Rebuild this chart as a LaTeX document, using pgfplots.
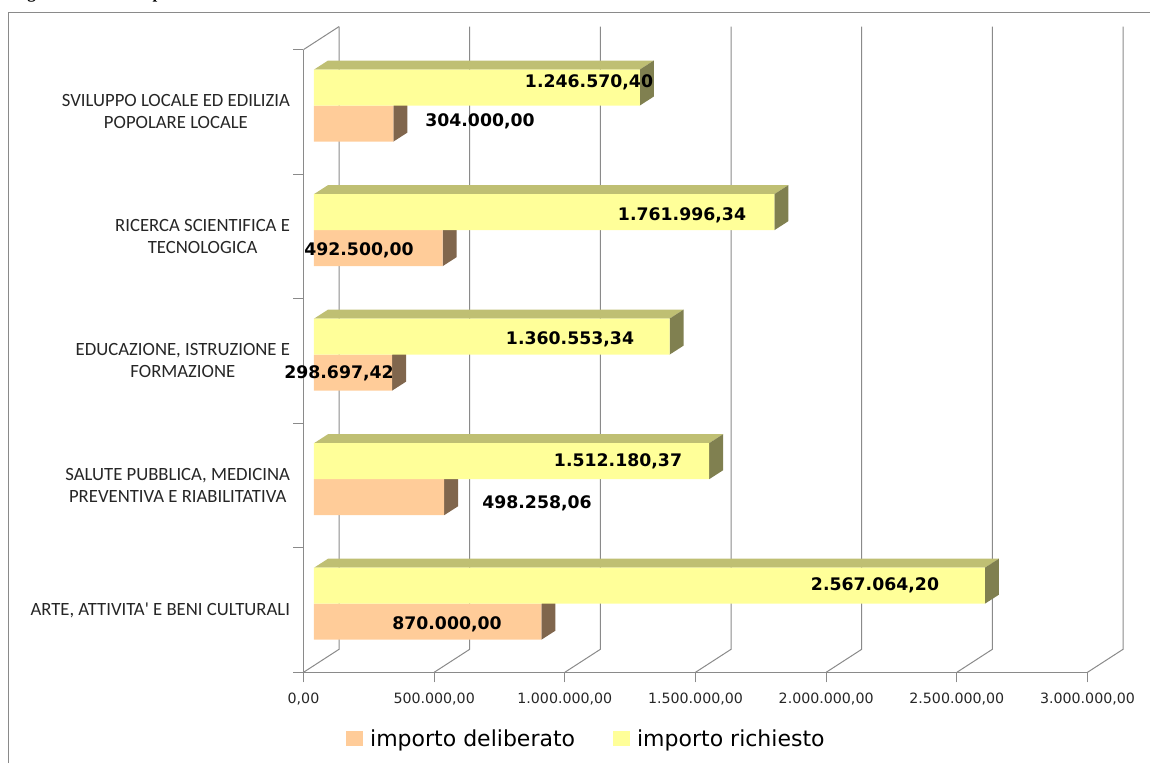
\documentclass[border=0pt]{standalone}
\usepackage{pgfplots}
\pgfplotsset{compat=1.18}
\usepackage{fontspec}
\setmainfont{DejaVu Sans}
\newfontfamily\catfont{Carlito}
\newfontfamily\serifbold{Liberation Serif}[BoldFont={Liberation Serif Bold}]
\definecolor{gridc}{HTML}{8A8A8A}
\definecolor{yfront}{HTML}{FFFF99}
\definecolor{ytop}{HTML}{BFBF73}
\definecolor{yside}{HTML}{808050}
\definecolor{ofront}{HTML}{FFCC99}
\definecolor{oside}{HTML}{80664D}
\tikzset{
  val/.style={font=\fontsize{17.3}{20}\selectfont\bfseries,text=black,inner sep=0pt,anchor=center,yshift=-1pt}
}
\pgfplotsset{
  barshift/.style={xshift=10.5pt,yshift=6.3pt},
  face/.style={draw=none,no marks,forget plot,barshift},
  wall/.style={gridc,line width=1pt,no marks,forget plot},
  swatch/.style={legend image code/.code={\fill[##1] (0pt,-7.5pt) rectangle (17pt,7.5pt);}},
}
\begin{document}
\begin{tikzpicture}
\path[use as bounding box] (-303.5pt,-90.7pt) rectangle (846.5pt,672.3pt);
\draw[gridc,line width=1.4pt] (-295pt,-90.7pt) -- (-295pt,659.8pt) -- (846.5pt,659.8pt);
\node[font=\serifbold\bfseries\fontsize{17}{20}\selectfont,anchor=base west,inner sep=0pt] at (-291.5pt,674pt) {Figura};
\node[font=\serifbold\bfseries\fontsize{17}{20}\selectfont,anchor=base west,inner sep=0pt] at (-151pt,674pt) {p};
\begin{axis}[
  at={(0pt,0pt)},anchor=origin,
  scale only axis,width=784pt,height=622.7pt,
  xmin=0,xmax=3000000,ymin=0,ymax=5,
  clip=false,
  axis x line=bottom,axis y line=left,
  axis line style={-,gridc,line width=1pt},
  tick align=outside,
  xtick={0,500000,1000000,1500000,2000000,2500000,3000000},
  xticklabels={{0,00},{500.000,00},{1.000.000,00},{1.500.000,00},{2.000.000,00},{2.500.000,00},{3.000.000,00}},
  ytick={0.5,1.5,2.5,3.5,4.5},
  yticklabels={{ARTE, ATTIVITA' E BENI CULTURALI},{SALUTE PUBBLICA, MEDICINA\\PREVENTIVA E RIABILITATIVA},{EDUCAZIONE, ISTRUZIONE E\\FORMAZIONE},{RICERCA SCIENTIFICA E\\TECNOLOGICA},{SVILUPPO LOCALE ED EDILIZIA\\POPOLARE LOCALE}},
  minor ytick={0,1,2,3,4,5},
  tickwidth=10pt,subtickwidth=10pt,
  tick style={gridc,line width=1pt},
  major y tick style={draw=none},
  xticklabel style={font=\fontsize{14.2}{16}\selectfont,text=black!85,yshift=-7pt},
  yticklabel style={font=\catfont\fontsize{18.7}{22}\selectfont,text=black!85,align=center,xshift=0pt},
  scaled x ticks=false,
  legend style={at={(42.5pt,-55pt)},anchor=north west,draw=none,fill=none,legend columns=2,
    font=\fontsize{22}{24}\selectfont,/tikz/every even column/.append style={column sep=36pt},
    /tikz/every odd column/.append style={column sep=5pt},inner sep=0pt},
]
% back wall gridlines and floor diagonals
\addplot[wall] coordinates {(0,0)(136000,0.1847)(136000,5.1847)};
\addplot[wall] coordinates {(500000,0)(636000,0.1847)(636000,5.1847)};
\addplot[wall] coordinates {(1000000,0)(1136000,0.1847)(1136000,5.1847)};
\addplot[wall] coordinates {(1500000,0)(1636000,0.1847)(1636000,5.1847)};
\addplot[wall] coordinates {(2000000,0)(2136000,0.1847)(2136000,5.1847)};
\addplot[wall] coordinates {(2500000,0)(2636000,0.1847)(2636000,5.1847)};
\addplot[wall] coordinates {(3000000,0)(3136000,0.1847)(3136000,5.1847)};
\addplot[wall] coordinates {(0,5)(136000,5.1847)};
% orange side faces
\addplot[face,fill=oside] coordinates {(870000,0.5)(923571,0.5723)(923571,0.2833)(870000,0.211)} --cycle;
\addplot[face,fill=oside] coordinates {(498258.06,1.5)(551829,1.5723)(551829,1.2833)(498258.06,1.211)} --cycle;
\addplot[face,fill=oside] coordinates {(298697.42,2.5)(352268,2.5723)(352268,2.2833)(298697.42,2.211)} --cycle;
\addplot[face,fill=oside] coordinates {(492500,3.5)(546071,3.5723)(546071,3.2833)(492500,3.211)} --cycle;
\addplot[face,fill=oside] coordinates {(304000,4.5)(357571,4.5723)(357571,4.2833)(304000,4.211)} --cycle;
% orange fronts
\addplot[xbar,bar width=36pt,bar shift=-18pt,draw=none,fill=ofront,barshift,forget plot] coordinates {(870000,0.5)(498258.06,1.5)(298697.42,2.5)(492500,3.5)(304000,4.5)};
% yellow top faces
\addplot[face,fill=ytop] coordinates {(0,0.789)(53571,0.8613)(2620635,0.8613)(2567064.2,0.789)} --cycle;
\addplot[face,fill=ytop] coordinates {(0,1.789)(53571,1.8613)(1565751,1.8613)(1512180.37,1.789)} --cycle;
\addplot[face,fill=ytop] coordinates {(0,2.789)(53571,2.8613)(1414124,2.8613)(1360553.34,2.789)} --cycle;
\addplot[face,fill=ytop] coordinates {(0,3.789)(53571,3.8613)(1815567,3.8613)(1761996.34,3.789)} --cycle;
\addplot[face,fill=ytop] coordinates {(0,4.789)(53571,4.8613)(1300141,4.8613)(1246570.4,4.789)} --cycle;
% yellow side faces
\addplot[face,fill=yside] coordinates {(2567064.2,0.789)(2620635,0.8613)(2620635,0.5723)(2567064.2,0.5)} --cycle;
\addplot[face,fill=yside] coordinates {(1512180.37,1.789)(1565751,1.8613)(1565751,1.5723)(1512180.37,1.5)} --cycle;
\addplot[face,fill=yside] coordinates {(1360553.34,2.789)(1414124,2.8613)(1414124,2.5723)(1360553.34,2.5)} --cycle;
\addplot[face,fill=yside] coordinates {(1761996.34,3.789)(1815567,3.8613)(1815567,3.5723)(1761996.34,3.5)} --cycle;
\addplot[face,fill=yside] coordinates {(1246570.4,4.789)(1300141,4.8613)(1300141,4.5723)(1246570.4,4.5)} --cycle;
% yellow fronts
\addplot[xbar,bar width=36pt,bar shift=18pt,draw=none,fill=yfront,barshift,forget plot] coordinates {(2567064.2,0.5)(1512180.37,1.5)(1360553.34,2.5)(1761996.34,3.5)(1246570.4,4.5)};
\addlegendimage{swatch,fill=ofront,draw=none}
\addlegendentry{importo deliberato}
\addlegendimage{swatch,fill=yfront,draw=none}
\addlegendentry{importo richiesto}
% value labels, placed in pixel offsets from the origin
\node[val] at (rel axis cs:0,0) [xshift=285.5pt,yshift=591.3pt] {1.246.570,40};
\node[val] at (rel axis cs:0,0) [xshift=176.5pt,yshift=552.3pt] {304.000,00};
\node[val] at (rel axis cs:0,0) [xshift=378.5pt,yshift=458.3pt] {1.761.996,34};
\node[val] at (rel axis cs:0,0) [xshift=55.5pt,yshift=423.3pt] {492.500,00};
\node[val] at (rel axis cs:0,0) [xshift=266.5pt,yshift=334.3pt] {1.360.553,34};
\node[val] at (rel axis cs:0,0) [xshift=35.5pt,yshift=300.3pt] {298.697,42};
\node[val] at (rel axis cs:0,0) [xshift=314.5pt,yshift=212.3pt] {1.512.180,37};
\node[val] at (rel axis cs:0,0) [xshift=233.5pt,yshift=170.3pt] {498.258,06};
\node[val] at (rel axis cs:0,0) [xshift=571.5pt,yshift=88.3pt] {2.567.064,20};
\node[val] at (rel axis cs:0,0) [xshift=143.5pt,yshift=49.3pt] {870.000,00};
\end{axis}
\end{tikzpicture}
\end{document}
